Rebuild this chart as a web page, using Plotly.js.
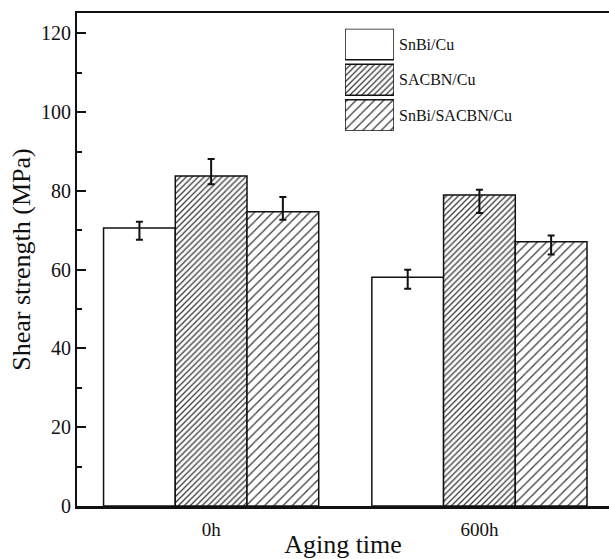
<!DOCTYPE html>
<html>
<head>
<meta charset="utf-8">
<script src="https://cdn.plot.ly/plotly-3.0.1.min.js"></script>
<style>html,body{margin:0;padding:0;overflow:hidden;background:#fff}</style>
</head>
<body>
<div id="chart" style="width:609px;height:559px"></div>
<script>
// ---- data ----
const categories = ['0h', '600h'];
const seriesNames = ['SnBi/Cu', 'SACBN/Cu', 'SnBi/SACBN/Cu'];
const snbiCu = [70.6, 58.1];
const sacbnCu = [83.8, 79.0];
const snbiSacbnCu = [74.7, 67.1];
const snbiErrPlus = [1.6, 1.9];
const snbiErrMinus = [3.0, 2.9];
const sacbnErrPlus = [4.3, 1.3];
const sacbnErrMinus = [2.1, 4.6];
const mixErrPlus = [3.8, 1.6];
const mixErrMinus = [2.0, 3.2];
const yTickVals = [0, 20, 40, 60, 80, 100, 120];

const serif = 'Liberation Serif, Times New Roman, serif';
const patterns = [
  {shape: '', fillmode: 'replace'},
  {shape: '/', size: 4.2, solidity: 0.3, fgcolor: '#3a3a3a', bgcolor: '#fff', fillmode: 'replace'},
  {shape: '/', size: 6.5, solidity: 0.2, fgcolor: '#3a3a3a', bgcolor: '#fff', fillmode: 'replace'}
];
const values = [snbiCu, sacbnCu, snbiSacbnCu];
const errP = [snbiErrPlus, sacbnErrPlus, mixErrPlus];
const errM = [snbiErrMinus, sacbnErrMinus, mixErrMinus];

const traces = [];
seriesNames.forEach((name, i) => {
  traces.push({
    type: 'bar', name: name, x: categories, y: values[i],
    marker: {color: '#fff', pattern: patterns[i], line: {color: '#111', width: 1.5}},
    error_y: {type: 'data', symmetric: false, array: errP[i], arrayminus: errM[i],
              color: '#111', thickness: 2, width: 3.5},
    showlegend: false, xaxis: 'x', yaxis: 'y'
  });
});
// legend swatches drawn on a small auxiliary subplot
seriesNames.forEach((name, i) => {
  traces.push({
    type: 'bar', orientation: 'h', name: name, x: [1], y: [i], base: 0,
    width: 0.873, offset: -0.4366,
    marker: {color: '#fff', pattern: patterns[i], line: {color: '#111', width: 1.5}},
    showlegend: false, hoverinfo: 'skip', xaxis: 'x2', yaxis: 'y2'
  });
});

const annotations = seriesNames.map((name, i) => ({
  text: name, xref: 'paper', yref: 'y2', x: 0.601, y: i,
  xanchor: 'left', yanchor: 'middle', showarrow: false,
  font: {family: serif, size: 16, color: '#111'}
}));

const layout = {
  width: 609, height: 559,
  margin: {l: 77, r: 0, t: 13, b: 53},
  paper_bgcolor: '#fff', plot_bgcolor: '#fff',
  barmode: 'group', bargap: 0.198, bargroupgap: 0,
  showlegend: false,
  font: {family: serif, color: '#111'},
  xaxis: {
    type: 'category', range: [-0.5, 1.483],
    showline: true, linecolor: '#111', linewidth: 2.5, mirror: true,
    ticks: '', showgrid: false, zeroline: false,
    tickfont: {family: serif, size: 19, color: '#111'},
    ticklabelstandoff: 5,
    title: {text: 'Aging time', font: {family: serif, size: 26, color: '#111'}, standoff: 6}
  },
  yaxis: {
    range: [0, 125.2], tickvals: yTickVals,
    showline: true, linecolor: '#111', linewidth: 2, mirror: false,
    ticks: 'inside', ticklen: 9, tickwidth: 2, tickcolor: '#111',
    minor: {dtick: 10, ticks: 'inside', ticklen: 5, tickwidth: 2, tickcolor: '#111', showgrid: false},
    showgrid: false, zeroline: false,
    tickfont: {family: serif, size: 20, color: '#111'},
    title: {text: 'Shear strength (MPa)', font: {family: serif, size: 26, color: '#111'}, standoff: 3}
  },
  xaxis2: {domain: [0.5038, 0.5959], range: [0, 1], visible: false, fixedrange: true, anchor: 'y2'},
  yaxis2: {domain: [0.7613, 0.9682], range: [2.4366, -0.4366], visible: false, fixedrange: true, anchor: 'x2'},
  annotations: annotations
};

Plotly.newPlot('chart', traces, layout, {displayModeBar: false, staticPlot: true});
</script>
</body>
</html>
